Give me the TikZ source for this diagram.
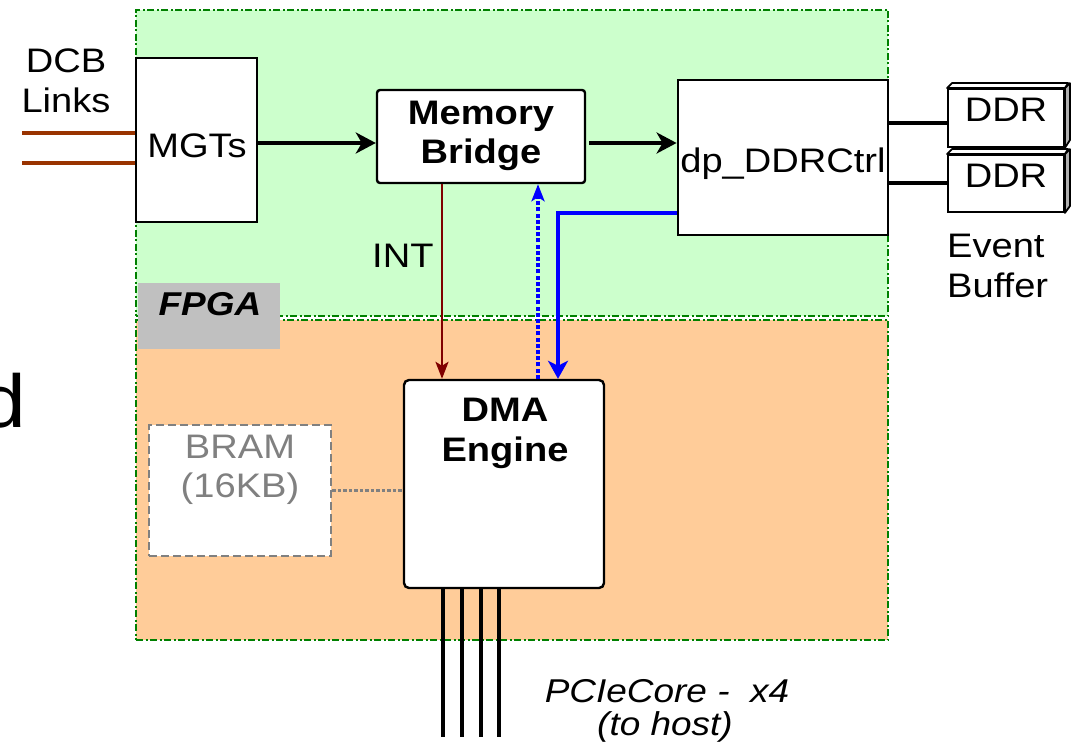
\documentclass[tikz,border=0pt]{standalone}
\usepackage{fontspec}
\setmainfont{Liberation Sans}[FakeStretch=1.12]
\usetikzlibrary{arrows.meta}
\definecolor{fpgagreen}{HTML}{CCFFCC}
\definecolor{fpgaorange}{HTML}{FFCC99}
\definecolor{borderg}{HTML}{008000}
\definecolor{linkbrown}{HTML}{993300}
\definecolor{intred}{HTML}{800000}
\definecolor{labelgray}{HTML}{C0C0C0}
\definecolor{bramgray}{HTML}{808080}
\definecolor{sidegray}{HTML}{B0B0B0}
\begin{document}
\begin{tikzpicture}[x=1pt,y=-1pt,
  region/.style={draw=borderg, line width=2.3pt, dash pattern=on 7pt off 2.5pt on 2pt off 2.5pt, inner sep=0},
  box/.style={draw=black, line width=2.4pt, fill=white, inner sep=0},
  txt/.style={inner sep=0, anchor=base, font=\fontsize{34}{40}\selectfont},
  bold/.style={font=\fontsize{34}{40}\selectfont\bfseries},
  ital/.style={font=\fontsize{33}{40}\selectfont\itshape},
  bigarrow/.style={line width=3.6pt, -{Stealth[length=20pt,width=21pt,inset=6pt]}},
  thinarrow/.style={line width=2.6pt, -{Stealth[length=17pt,width=13pt,inset=4pt]}},
  wire/.style={line width=3.6pt}
]
\useasboundingbox (0,0) rectangle (1074,749);

% regions
\node[region, fill=fpgagreen, minimum width=752pt, minimum height=306pt] (green) at (512,163) {};
\node[region, fill=fpgaorange, minimum width=752pt, minimum height=320pt] (orange) at (512,480) {};
\node[fill=labelgray, minimum width=142pt, minimum height=66pt, inner sep=0] (fpgabox) at (209,316) {};
\node[txt, font=\fontsize{33}{40}\selectfont\bfseries\itshape] (fpgatxt) at (210,315) {FPGA};

% cut-off letter at left
\node[inner sep=0, anchor=base east, font=\fontsize{75}{80}\selectfont] (bigd) at (26,427) {d};

% boxes
\node[box, minimum width=121pt, minimum height=164pt] (mgt) at (196.5,140) {};
\node[box, rounded corners=3pt, minimum width=208pt, minimum height=93pt] (mb) at (481,136.5) {};
\node[box, line width=2.8pt, minimum width=210pt, minimum height=155pt] (ctrl) at (783,157.5) {};
\node[box, rounded corners=5pt, minimum width=200pt, minimum height=208pt] (dma) at (504,484) {};
\node[draw=bramgray, line width=2.6pt, dash pattern=on 8pt off 4pt, fill=white, inner sep=0,
      minimum width=182pt, minimum height=131pt] (bram) at (240,490.5) {};

% DDR 3D boxes
\node[box, line width=1.8pt, minimum width=116pt, minimum height=58pt] (ddr1) at (1006,118) {};
\node[box, line width=1.8pt, minimum width=116pt, minimum height=57pt] (ddr2) at (1006,183.5) {};
\foreach \d in {ddr1,ddr2}{
  \draw[line width=1.8pt, fill=white, line join=round] (\d.north west) -- ++(5,-5) -- ++(116,0) -- (\d.north east) -- cycle;
  \draw[line width=1.8pt, fill=sidegray, line join=round] (\d.north east) -- ++(5,-5) -- ++(0,57) -- (\d.south east) -- cycle;
}

% texts
\node[txt] (dcb1) at (66,73) {DCB};
\node[txt] (dcb2) at (66,113) {Links};
\node[txt] (mgttxt) at (197,158) {MGTs};
\node[txt, bold] (mb1) at (481,125) {Memory};
\node[txt, bold] (mb2) at (481,164) {Bridge};
\node[txt] (ctrltxt) at (783,173) {dp\_DDRCtrl};
\node[txt] (ddr1txt) at (1006,122) {DDR};
\node[txt] (ddr2txt) at (1006,187) {DDR};
\node[txt, anchor=base west] (ev1) at (947,257) {Event};
\node[txt, anchor=base west] (ev2) at (947,297) {Buffer};
\node[txt, anchor=base west] (inttxt) at (372,267) {INT};
\node[txt, bold] (dma1) at (505,421) {DMA};
\node[txt, bold] (dma2) at (505,461) {Engine};
\node[txt, text=bramgray] (bram1) at (240,458) {BRAM};
\node[txt, text=bramgray] (bram2) at (240,497) {(16KB)};
\node[txt, ital] (pcie1) at (667,702) {PCIeCore -\ \ x4};
\node[txt, ital] (pcie2) at (665,735) {(to host)};

% DCB links
\coordinate (la) at (22,133);
\coordinate (lb) at (22,163);
\draw[wire, linkbrown] (la) -- (la -| mgt.west);
\draw[wire, linkbrown] (lb) -- (lb -| mgt.west);

% data path arrows
\coordinate (r1) at (0,143);
\draw[bigarrow] (mgt.east |- r1) -- (mb.west |- r1);
\draw[bigarrow] ([xshift=3pt]mb.east |- r1) -- (ctrl.west |- r1);

% DDR links
\coordinate (r2) at (0,123);
\draw[line width=4pt] (ctrl.east |- r2) -- (ddr1.west |- r2);
\draw[line width=4pt] (ctrl.east |- ddr2.west) -- (ddr2.west);

% INT
\coordinate (cx1) at (442,0);
\draw[thinarrow, intred] (mb.south -| cx1) -- (dma.north -| cx1);

% blue dotted (DMA -> Memory Bridge)
\coordinate (cx2) at (538,0);
\draw[thinarrow, blue, line width=3.6pt, dash pattern=on 4pt off 2.2pt] (dma.north -| cx2) -- (mb.south -| cx2);

% blue solid (ctrl -> DMA)
\coordinate (cx3) at (558,0);
\coordinate (r3) at (0,213);
\draw[blue, line width=3.6pt, -{Stealth[length=18pt,width=20pt,inset=5pt]}] (ctrl.west |- r3) -| (dma.north -| cx3);

% BRAM link
\draw[bramgray, line width=3.6pt, dash pattern=on 3.5pt off 2pt] (bram.east) -- (bram.east -| dma.west);

% PCIe lanes
\foreach \px [count=\i] in {443,462,481,499}{
  \coordinate (pe\i) at (\px,737);
  \draw[wire] (dma.south -| pe\i) -- (pe\i);
}
\end{tikzpicture}
\end{document}
